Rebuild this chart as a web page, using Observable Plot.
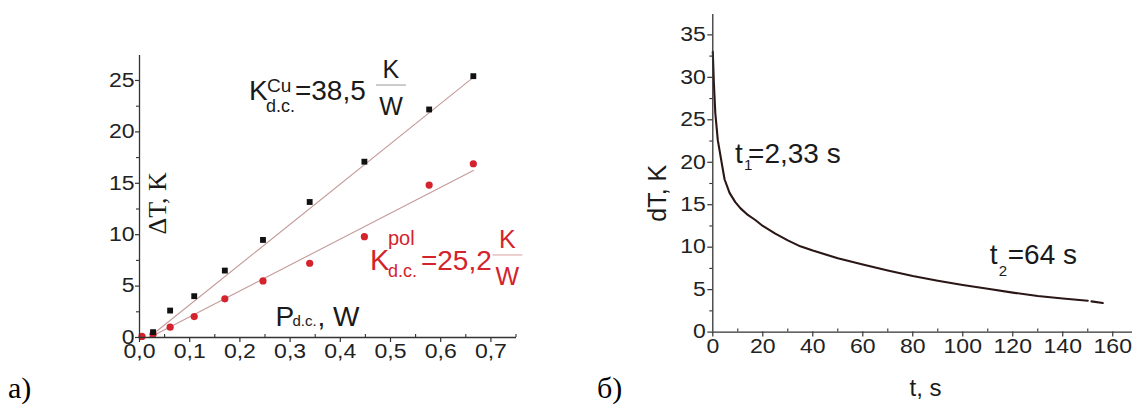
<!DOCTYPE html>
<html>
<head>
<meta charset="utf-8">
<script src="https://cdn.jsdelivr.net/npm/d3@7"></script>
<script src="https://cdn.jsdelivr.net/npm/@observablehq/plot@0.6"></script>
<style>
  html, body { margin: 0; padding: 0; background: #fff; }
  #wrap { position: relative; width: 1132px; height: 405px; overflow: hidden; background: #fff; }
  #wrap > div, #wrap > svg { position: absolute; top: 0; }
</style>
</head>
<body>
<div id="wrap"><div id="pa" style="left:0"></div><div id="pb" style="left:560px"></div></div>
<script>
// ---------- Panel а) : ΔT vs P_d.c. ----------
const pCu  = [0.027, 0.061, 0.109, 0.170, 0.246, 0.339, 0.448, 0.577, 0.665];
const tCu  = [0.52, 2.62, 4.02, 6.51, 9.49, 13.18, 17.10, 22.18, 25.42];
const pPol = [0.005, 0.027, 0.061, 0.109, 0.170, 0.246, 0.339, 0.448, 0.577, 0.665];
const tPol = [0.10, 0.32, 1.00, 2.04, 3.76, 5.50, 7.22, 9.81, 14.83, 16.90];
// linear fits (end points)
const fitCuP  = [0.0186, 0.665];
const fitCuT  = [0, 25.3];
const fitPolP = [0.02, 0.665];
const fitPolT = [0, 16.25];
const xTicksA = [0, 0.1, 0.2, 0.3, 0.4, 0.5, 0.6, 0.7];
const xMinorA = [0.05, 0.15, 0.25, 0.35, 0.45, 0.55, 0.65, 0.75];
const yTicksA = [0, 5, 10, 15, 20, 25];
const yMinorA = [2.5, 7.5, 12.5, 17.5, 22.5];

// ---------- Panel б) : dT vs t ----------
const tSec = [0, 0.4, 1, 2, 3.4, 4.7, 6.7, 9, 11, 14, 17, 20, 25, 30, 35, 40, 50, 60, 70, 80, 90, 100, 110, 120, 130, 140, 150, 150.8, 151.5, 156];
const dT   = [33, 29.5, 25.8, 22.6, 20.2, 18.0, 16.4, 15.3, 14.6, 13.8, 13.2, 12.5, 11.6, 10.8, 10.1, 9.6, 8.7, 7.95, 7.25, 6.6, 6.05, 5.55, 5.1, 4.65, 4.25, 3.95, 3.7, NaN, 3.62, 3.42];
const xTicksB = [0, 20, 40, 60, 80, 100, 120, 140, 160];
const xMinorB = [10, 30, 50, 70, 90, 110, 130, 150];
const yTicksB = [0, 5, 10, 15, 20, 25, 30, 35];
const yMinorB = [2.5, 7.5, 12.5, 17.5, 22.5, 27.5, 32.5];

const SANS = "'Liberation Sans', Arial, Helvetica, sans-serif";
const SERIF = "'Liberation Serif', 'Times New Roman', serif";
const AX = "#333";
const RED = "#d4232c";
const FIT = "#c49a9a";

const cuRows  = pCu.map((p, i) => ({p, t: tCu[i]}));
const polRows = pPol.map((p, i) => ({p, t: tPol[i]}));
const fitCu   = fitCuP.map((p, i) => ({p, t: fitCuT[i]}));
const fitPol  = fitPolP.map((p, i) => ({p, t: fitPolT[i]}));
const curve   = tSec.map((t, i) => ({t, v: dT[i]}));

const comma = d => d.toFixed(1).replace(".", ",");
const TICKFS = 19.5;

// ---- Plot A
const A = {w: 560, h: 405, ml: 139, mr: 44, mt: 55, mb: 68};
const plotA = Plot.plot({
  width: A.w, height: A.h,
  marginLeft: A.ml, marginRight: A.mr, marginTop: A.mt, marginBottom: A.mb,
  x: {domain: [0, 0.751]},
  y: {domain: [0, 27.43]},
  style: {fontFamily: SANS, fontSize: TICKFS + "px", color: AX, background: "transparent", overflow: "visible"},
  marks: [
    Plot.line(fitCu, {x: "p", y: "t", stroke: FIT, strokeWidth: 1.1}),
    Plot.line(fitPol, {x: "p", y: "t", stroke: FIT, strokeWidth: 1.1}),
    Plot.dot(polRows, {x: "p", y: "t", r: 3.6, fill: RED, stroke: "none"}),
    Plot.dot(cuRows, {x: "p", y: "t", r: 3.3, symbol: "square", fill: "#111", stroke: "none"}),
    Plot.ruleX([0], {stroke: AX, strokeWidth: 1.3}),
    Plot.ruleY([0], {stroke: AX, strokeWidth: 1.3}),
    Plot.axisY(yTicksA, {tickSize: 4, tickPadding: 1, fontSize: TICKFS, label: null, fill: "#222", strokeWidth: 1.2}),
    Plot.axisY(yMinorA, {tickSize: 3, tickFormat: () => "", label: null, strokeWidth: 1.1}),
    Plot.axisX(xTicksA, {tickSize: 5, tickPadding: 2, fontSize: TICKFS, tickFormat: comma, label: null, fill: "#222", strokeWidth: 1.2}),
    Plot.tickX(xMinorA, {x: d => d, insetTop: A.h - A.mt - A.mb - 3, stroke: AX, strokeWidth: 1.1})
  ]
});
document.getElementById("pa").appendChild(plotA);

// ---- Plot B
const B = {w: 572, h: 405, ml: 152.3, mr: 0, mt: 14, mb: 73.4};
const plotB = Plot.plot({
  width: B.w, height: B.h,
  marginLeft: B.ml, marginRight: B.mr, marginTop: B.mt, marginBottom: B.mb,
  x: {domain: [0, 167.9]},
  y: {domain: [0, 37.4]},
  style: {fontFamily: SANS, fontSize: TICKFS + "px", color: AX, background: "transparent", overflow: "visible"},
  marks: [
    Plot.line(curve, {x: "t", y: "v", stroke: "#2b1616", strokeWidth: 2.1, defined: d => !isNaN(d.v)}),
    Plot.ruleX([0], {stroke: AX, strokeWidth: 1.3}),
    Plot.ruleY([0], {stroke: AX, strokeWidth: 1.3}),
    Plot.axisY(yTicksB, {tickSize: 5, tickPadding: 2, fontSize: TICKFS, label: null, fill: "#222", strokeWidth: 1.2}),
    Plot.axisY(yMinorB, {tickSize: 3, tickFormat: () => "", label: null, strokeWidth: 1.1}),
    Plot.axisX(xTicksB, {tickSize: 5, tickPadding: 2, fontSize: TICKFS, label: null, fill: "#222", strokeWidth: 1.2}),
    Plot.tickX(xMinorB, {x: d => d, insetTop: B.h - B.mt - B.mb - 3, stroke: AX, strokeWidth: 1.1})
  ]
});
document.getElementById("pb").appendChild(plotB);

// widen the tick-label glyphs (the original uses a broad sans face)
function widen(svg, s) {
  svg.querySelectorAll('g[aria-label$="tick label"] text').forEach(t => {
    const tr = t.getAttribute("transform");
    if (tr) {
      t.setAttribute("transform", tr + ` scale(${s},1)`);
    } else {
      const x = +t.getAttribute("x") || 0, y = +t.getAttribute("y") || 0;
      t.setAttribute("x", 0); t.setAttribute("y", 0);
      t.setAttribute("transform", `translate(${x},${y}) scale(${s},1)`);
    }
  });
}

// ---------- annotations (placed through the plots' own scales) ----------
const NS = "http://www.w3.org/2000/svg";
function txt(svg, x, y, s, o = {}) {
  const t = document.createElementNS(NS, "text");
  t.setAttribute("x", x); t.setAttribute("y", y);
  t.setAttribute("font-family", o.family || SANS);
  t.setAttribute("font-size", o.size || 27);
  t.setAttribute("fill", o.fill || "#1a1a1a");
  t.setAttribute("stroke", "none");
  t.setAttribute("text-anchor", o.anchor || "start");
  if (o.rotate) t.setAttribute("transform", `rotate(-90 ${x} ${y})`);
  t.textContent = s;
  svg.appendChild(t);
  return t;
}
function bar(svg, x1, x2, y, color) {
  const l = document.createElementNS(NS, "line");
  l.setAttribute("x1", x1); l.setAttribute("x2", x2);
  l.setAttribute("y1", y); l.setAttribute("y2", y);
  l.setAttribute("stroke", color); l.setAttribute("stroke-width", 1);
  svg.appendChild(l);
}
function fraction(svg, cx, cy, color, size) {
  txt(svg, cx, cy - 7, "K", {anchor: "middle", size, fill: color});
  bar(svg, cx - 15, cx + 15, cy, color === RED ? "#d9a0a0" : "#999");
  txt(svg, cx, cy + 30, "W", {anchor: "middle", size, fill: color});
}

const sa = plotA.querySelector("svg") || plotA;
widen(sa, 1.18);
const xa = plotA.scale("x"), ya = plotA.scale("y");
{
  // K^Cu_d.c. = 38,5 K/W
  const x0 = xa.apply(0.219), y0 = ya.apply(23.05);
  txt(sa, x0, y0, "K", {size: 28});
  txt(sa, x0 + 18, y0 - 8, "Cu", {size: 19});
  txt(sa, x0 + 17, y0 + 12, "d.c.", {size: 18});
  txt(sa, x0 + 46, y0, "=38,5", {size: 28});
  fraction(sa, x0 + 142, y0 - 15, "#1a1a1a", 25);

  // K^pol_d.c. = 25,2 K/W
  const x1 = xa.apply(0.46), y1 = ya.apply(6.52);
  txt(sa, x1, y1, "K", {size: 29, fill: RED});
  txt(sa, x1 + 18, y1 - 25, "pol", {size: 20, fill: RED});
  txt(sa, x1 + 18, y1 + 7, "d.c.", {size: 18, fill: RED});
  txt(sa, x1 + 51, y1, "=25,2", {size: 28, fill: RED});
  fraction(sa, x1 + 137.5, y1 - 15, RED, 25);

  // axis titles
  const px = xa.apply(0.272), py = ya.apply(1.07);
  txt(sa, px, py, "P", {size: 28});
  txt(sa, px + 17, py, "d.c.", {size: 15});
  txt(sa, px + 42, py, ", W", {size: 28});
  txt(sa, 166, ya.apply(13.0), "ΔT, K", {size: 26, family: SERIF, anchor: "middle", rotate: true});
  txt(sa, 8, 398, "а)", {size: 30, family: SERIF, fill: "#000"});
}

const sb = plotB.querySelector("svg") || plotB;
widen(sb, 1.18);
const xb = plotB.scale("x"), yb = plotB.scale("y");
{
  const x0 = xb.apply(9.1), y0 = yb.apply(19.8);
  txt(sb, x0, y0, "t", {size: 28});
  txt(sb, x0 + 9, y0 + 7, "1", {size: 15});
  txt(sb, x0 + 13, y0, "=2,33 s", {size: 28});

  const x1 = xb.apply(111), y1 = yb.apply(7.96);
  txt(sb, x1, y1, "t", {size: 28});
  txt(sb, x1 + 9, y1 + 12, "2", {size: 15});
  txt(sb, x1 + 18, y1, "=64 s", {size: 28});

  txt(sb, 106, yb.apply(16.3), "dT, K", {size: 25, anchor: "middle", rotate: true});
  txt(sb, xb.apply(85.3), 396, "t, s", {size: 24, anchor: "middle"});
  txt(sb, 37, 398, "б)", {size: 30, family: SERIF, fill: "#000"});
}
</script>
</body>
</html>
